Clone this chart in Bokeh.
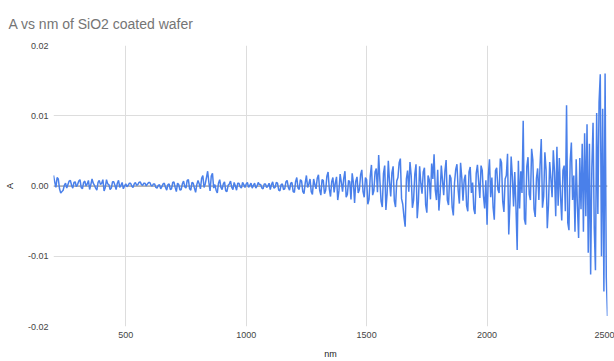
from bokeh.plotting import figure
from bokeh.models import Range1d, FixedTicker, PrintfTickFormatter, Span, ColumnDataSource
from bokeh.embed import file_html
from bokeh.resources import INLINE

# wavelength grid (nm) and absorbance (in units of 1e-3 A)
nm = list(range(200, 2505, 5))
A_x1000 = [
    # 200-295
    1.5, 0.6, -0.2, 1.2, 1.0, -0.4, -1.0, -0.8, -0.6, 0.1, 0.4, -0.3, 0.2, 0.7, 0.8, 0.1, -0.3, 0.5, 0.6, -0.1,
    # 300-395
    0.2, 0.7, 0.9, -0.2, -0.4, 0.5, 0.7, 0.0, 0.3, 0.8, -0.5, 0.2, 1.0, 0.4, 0.1, -0.3, -0.6, 0.5, 0.8, 0.2,
    # 400-495
    0.4, 0.9, -0.7, -0.2, 0.9, 0.3, 0.2, -0.5, -0.3, 0.6, 0.6, 0.1, -0.5, 0.4, 0.8, -0.2, 0.1, 0.5, -0.4, 0.0,
    # 500-595
    0.3, -0.1, 0.1, 0.4, 0.4, 0.0, -0.2, 0.3, 0.5, 0.1, 0.2, 0.5, 0.6, 0.2, 0.1, 0.4, 0.4, 0.0, 0.3, 0.5,
    # 600-695
    0.5, 0.1, 0.0, 0.3, 0.3, -0.2, -0.3, 0.1, 0.2, -0.4, -0.1, 0.3, 0.4, -0.2, -0.6, 0.2, 0.3, -0.5, -0.4, 0.5,
    # 700-795
    0.6, -0.2, -0.8, 0.4, 0.2, -0.6, -0.5, 0.3, 0.7, -0.1, -0.3, 0.8, 0.9, -0.4, -0.6, 0.5, 0.4, -0.3, -0.9, 0.2,
    # 800-895
    0.8, 0.3, -0.4, 1.1, 1.5, -0.2, 0.3, 1.2, 2.1, 0.5, -0.7, 1.4, 1.8, -0.3, 0.2, -0.6, -1.0, 0.4, 0.9, -0.2,
    # 900-995
    -0.5, 0.3, 0.6, -0.7, -0.8, 0.1, 0.3, 0.7, -0.2, -0.5, 0.5, 0.0, -0.6, 0.4, 0.4, -0.1, -0.3, 0.5, 0.2, -0.2,
    # 1000-1095
    0.3, 0.5, -0.2, 0.1, 0.4, -0.3, 0.1, 0.4, -0.3, 0.0, 0.5, 0.2, 0.2, -0.3, -0.4, 0.3, 0.3, -0.2, 0.0, 0.4,
    # 1100-1195
    -0.5, 0.2, 0.6, -0.3, -0.2, 0.5, 0.4, -0.6, -0.7, 0.2, 0.3, -0.5, -0.4, 0.6, 0.8, -0.2, -0.6, 0.4, 0.5, -0.8,
    # 1200-1295
    -0.9, 0.6, 1.2, -0.3, -0.5, 0.9, 0.7, -0.8, -1.1, 0.4, 1.5, -0.2, 0.3, 1.0, -0.8, -1.2, 1.0, 0.2, -0.4, 1.1,
    # 1300-1395
    1.6, -0.6, -1.3, 0.9, 0.8, -1.1, -0.6, 1.4, 2.0, -0.4, -1.5, 0.6, 1.2, -0.9, 0.4, 1.3, -2.0, -0.7, 1.7, 0.5,
    # 1400-1495
    -0.8, 1.1, 2.1, -1.6, -1.2, 0.8, 0.6, -1.9, 1.8, 0.5, -2.4, 0.7, 1.3, -1.0, -0.5, 1.6, 2.3, -0.8, -1.6, 1.2,
    # 1500-1595
    0.9, -2.6, -1.9, 1.4, 3.0, -1.3, -0.7, 2.0, 2.5, -0.9, 4.4, 0.8, -2.2, -3.0, 1.8, 2.9, -3.4, -1.1, 3.6, 0.6,
    # 1600-1695
    -1.5, 1.9, 2.8, -2.1, -3.0, 0.7, 1.2, 3.3, 3.9, -1.8, -2.6, -4.4, -5.8, 1.0, 2.2, -0.8, 3.4, 1.5, -3.1, -2.0,
    # 1700-1795
    1.7, 3.1, -4.6, -2.2, 2.8, 0.4, -1.1, 2.0, 2.6, -2.7, -3.8, 1.5, 0.9, -1.9, 3.2, 1.0, 4.5, -0.6, -2.0, 2.3,
    # 1800-1895
    -3.5, -1.2, 2.9, 0.8, -1.3, 2.1, 3.7, -2.0, -2.7, 1.6, 1.1, -3.0, -4.2, 0.5, 2.4, 3.1, -0.6, -2.5, 3.3, 1.2,
    # 1900-1995
    -2.1, 0.9, 1.6, -2.8, -3.6, 2.0, 2.7, -1.0, 0.5, -3.3, -4.0, 1.8, 3.0, 0.6, -1.7, 2.9, 2.2, -1.4, -3.2, 0.8,
    # 2000-2095
    -5.5, 1.4, 3.8, -1.6, 1.2, -3.0, -4.8, 2.2, 2.6, -0.5, -1.0, 3.9, 3.3, -2.2, -3.7, 1.0, 1.5, 4.6, -6.9, -2.4,
    # 2100-2195
    4.2, 1.3, -2.9, 2.0, -3.0, -9.1, 3.6, -3.2, 2.1, -1.0, 9.3, -4.7, -5.5, 2.8, 4.1, -1.2, -2.0, 5.3, 3.7, -3.3,
    # 2200-2295
    -4.4, 1.1, 2.5, -2.0, 3.0, 6.7, -3.1, -1.5, 4.8, 2.3, -6.0, -2.7, 3.4, 1.0, -1.6, 5.1, 2.0, -4.3, 5.6, -2.8,
    # 2300-2395
    4.0, -1.4, -4.9, 2.2, 2.9, -3.6, 11.5, -5.2, -6.3, 3.5, 6.2, -2.0, 1.5, -6.5, 3.8, -2.8, -7.4, 4.0, -3.3, 6.0,
    # 2400-2500
    -6.5, 7.5, -4.3, 8.8, -9.5, 6.0, -12.6, 2.6, 9.0, -6.0, -12.0, 10.4, -4.0, 12.0, 15.9, -10.0, 11.0, -15.0, 16.0, -13.0,
    -18.5,
]
A = [v / 1000.0 for v in A_x1000]
assert len(A) == len(nm)

x_ticks = [500, 1000, 1500, 2000, 2500]
y_ticks = [-0.02, -0.01, 0.0, 0.01, 0.02]

FONT = "Liberation Sans"

p = figure(
    width=614, height=361,
    x_range=Range1d(200, 2500), y_range=Range1d(-0.02, 0.02),
    output_backend="svg", toolbar_location=None,
    title="A vs nm of SiO2 coated wafer",
    min_border_left=53, min_border_right=7, min_border_top=43, min_border_bottom=33,
)
p.outline_line_color = None
p.background_fill_color = "white"
p.border_fill_color = "white"

p.title.text_font = FONT
p.title.text_font_size = "14px"
p.title.text_font_style = "normal"
p.title.text_color = "#757575"
p.title.align = "left"
p.title.offset = -45
p.title.standoff = 27

src = ColumnDataSource(dict(nm=nm, A=A))

zero = Span(location=0, dimension="width", line_color="#888888", line_width=1, level="underlay")
p.add_layout(zero)

p.line("nm", "A", source=src, line_color="#4a80ea", line_width=1.5)

p.xaxis.ticker = FixedTicker(ticks=x_ticks)
p.yaxis.ticker = FixedTicker(ticks=y_ticks)
p.yaxis.formatter = PrintfTickFormatter(format="%.2f")

for ax in (p.xaxis[0], p.yaxis[0]):
    ax.axis_line_color = None
    ax.major_tick_line_color = None
    ax.minor_tick_line_color = None
    ax.major_tick_out = 0
    ax.major_tick_in = 0
    ax.minor_tick_out = 0
    ax.minor_tick_in = 0
    ax.major_label_text_font = FONT
    ax.major_label_text_font_size = "9px"
    ax.major_label_text_color = "#444444"
    ax.axis_label_text_font = FONT
    ax.axis_label_text_font_size = "9px"
    ax.axis_label_text_font_style = "normal"
    ax.axis_label_text_color = "#222222"

p.xaxis.axis_label = "nm"
p.yaxis.axis_label = "A"
p.xaxis.major_label_standoff = 5
p.xaxis.axis_label_standoff = 8
p.yaxis.major_label_standoff = 5
p.yaxis.axis_label_standoff = 10

p.xgrid.grid_line_color = "#dddddd"
p.ygrid.grid_line_color = "#dddddd"

open("out.html", "w").write(file_html(p, INLINE))
